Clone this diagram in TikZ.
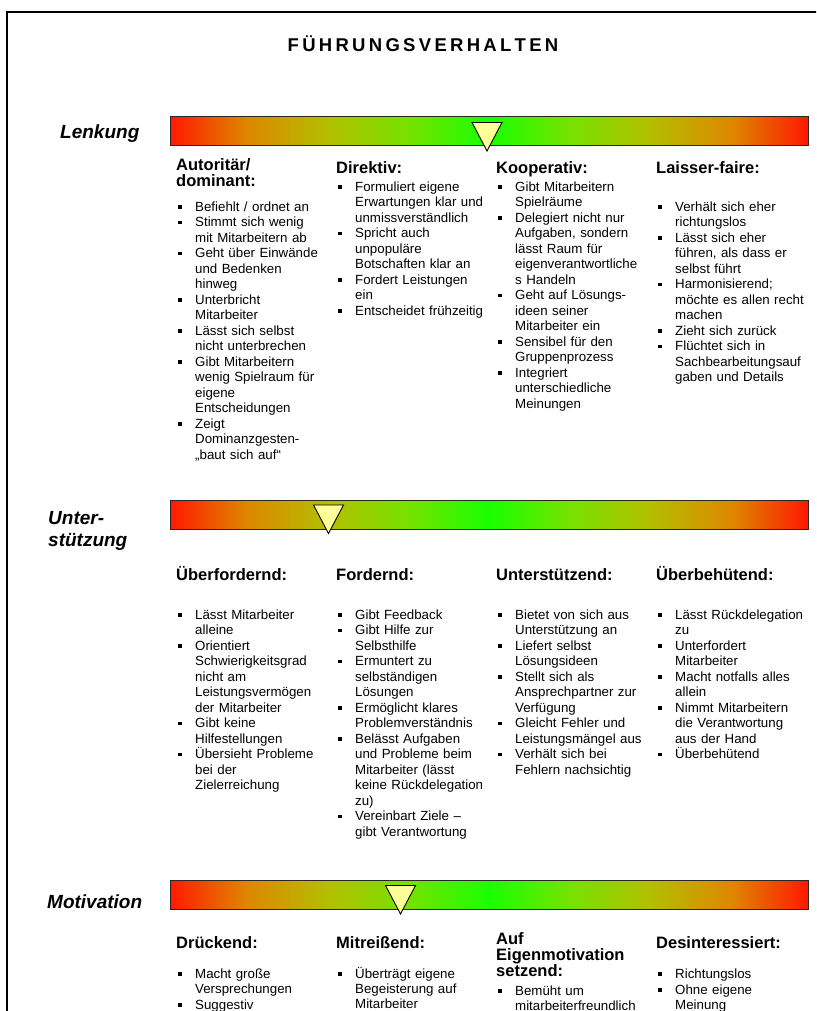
\documentclass[tikz,border=0pt]{standalone}
\usepackage{fontspec}
\setmainfont{Liberation Sans}
\usetikzlibrary{positioning}

\definecolor{ampRot}{RGB}{255,25,0}
\definecolor{ampOrange}{RGB}{222,135,0}
\definecolor{ampGelb}{RGB}{178,192,0}
\definecolor{ampHell}{RGB}{120,225,0}
\definecolor{ampGruen}{RGB}{25,255,0}
\definecolor{zeigergelb}{RGB}{255,255,153}

\pgfdeclarehorizontalshading{ampel}{100bp}{color(0bp)=(ampRot); color(25bp)=(ampRot);
  color(31bp)=(ampOrange); color(37.5bp)=(ampGelb); color(43.5bp)=(ampHell);
  color(50bp)=(ampGruen); color(56.5bp)=(ampHell); color(62.5bp)=(ampGelb);
  color(69bp)=(ampOrange); color(75bp)=(ampRot); color(100bp)=(ampRot)}

% Aufzaehlungspunkt mit haengendem Einzug
\newcommand{\punkt}{\endgraf\noindent\hangindent=17pt\hangafter=1%
  \makebox[17pt][l]{\rule[2.3pt]{3.8pt}{3.8pt}\rule{0pt}{12.5pt}}}
\newcommand{\schluss}{\endgraf}

\begin{document}
\begin{tikzpicture}[x=1pt, y=-1pt,
    balken/.style={draw=black!85, line width=1pt, shading=ampel, minimum width=638pt, minimum height=29pt, inner sep=0pt},
    zeiger/.style={draw=black, line width=0.9pt, fill=zeigergelb, line join=miter},
    titel/.style={anchor=base, inner sep=0pt, font=\fontsize{18.5}{20}\selectfont\bfseries},
    bereich/.style={inner sep=0pt, align=left, font=\fontsize{19}{22}\selectfont\bfseries\itshape},
    kopf/.style={anchor=north west, inner sep=0pt, align=left, font=\fontsize{16.5}{16}\selectfont\bfseries, execute at begin node={\rule{0pt}{15pt}}},
    liste/.style={anchor=north west, inner sep=0pt, text width=165pt, align=left, font=\fontsize{13.3}{15.5}\selectfont},
    kurzliste/.style={liste, font=\fontsize{13.3}{15}\selectfont}]
    \clip (0,0) rectangle (816,1011);
    \fill[white] (0,0) rectangle (816,1011);
    \draw[line width=2pt] (6.5,1030) |- (830,12);

    \node[titel] (titel) at (423,52) {\foreach \b in {F,Ü,H,R,U,N,G,S,V,E,R,H,A,L,T,E}{\b\kern3.3pt}N};

    % Lenkung
    \node[bereich, anchor=base west] (lenkung) at (60,139) {Lenkung};
    \node[balken] (balkenL) at (489,131.5) {};
    \coordinate (spitzeL) at (487,151);
    \draw[zeiger] (spitzeL) -- ++(-15,-28.5) -- ++(30,0) -- cycle;

    \node[kopf] (autoritaer) at (176,158) {Autoritär/\\dominant:};
    \node[kopf] (direktiv) at (336,158) {Direktiv:};
    \node[kopf] (kooperativ) at (496,158) {Kooperativ:};
    \node[kopf] (laisser) at (656,158) {Laisser-faire:};

    \node[liste] (listeAutoritaer) at (178,195.5) {\punkt Befiehlt / ordnet an
      \punkt Stimmt sich wenig\newline mit Mitarbeitern ab
      \punkt Geht über Einwände\newline und Bedenken\newline hinweg
      \punkt Unterbricht\newline Mitarbeiter
      \punkt Lässt sich selbst\newline nicht unterbrechen
      \punkt Gibt Mitarbeitern\newline wenig Spielraum für\newline eigene\newline Entscheidungen
      \punkt Zeigt\newline Dominanzgesten-\newline „baut sich auf“\schluss};
    \node[liste] (listeDirektiv) at (338,175.5) {\punkt Formuliert eigene\newline Erwartungen klar und\newline unmissverständlich
      \punkt Spricht auch\newline unpopuläre\newline Botschaften klar an
      \punkt Fordert Leistungen\newline ein
      \punkt Entscheidet frühzeitig\schluss};
    \node[liste] (listeKooperativ) at (498,175.5) {\punkt Gibt Mitarbeitern\newline Spielräume
      \punkt Delegiert nicht nur\newline Aufgaben, sondern\newline lässt Raum für\newline eigenverantwortliche\newline s Handeln
      \punkt Geht auf Lösungs-\newline ideen seiner\newline Mitarbeiter ein
      \punkt Sensibel für den\newline Gruppenprozess
      \punkt Integriert\newline unterschiedliche\newline Meinungen\schluss};
    \node[liste] (listeLaisser) at (658,195.5) {\punkt Verhält sich eher\newline richtungslos
      \punkt Lässt sich eher\newline führen, als dass er\newline selbst führt
      \punkt Harmonisierend;\newline möchte es allen recht\newline machen
      \punkt Zieht sich zurück
      \punkt Flüchtet sich in\newline Sachbearbeitungsauf\newline gaben und Details\schluss};

    % Unterstuetzung
    \node[bereich, anchor=north west, execute at begin node={\rule{0pt}{13.5pt}}] (unterstuetzung) at (48,511.5) {Unter-\\stützung};
    \node[balken] (balkenU) at (489,514.5) {};
    \coordinate (spitzeU) at (328.5,533.5);
    \draw[zeiger] (spitzeU) -- ++(-15,-28.5) -- ++(30,0) -- cycle;

    \node[kopf] (ueberfordernd) at (176,565) {Überfordernd:};
    \node[kopf] (fordernd) at (336,565) {Fordernd:};
    \node[kopf] (unterstuetzend) at (496,565) {Unterstützend:};
    \node[kopf] (ueberbehuetend) at (656,565) {Überbehütend:};

    \node[liste] (listeUeberfordernd) at (178,603.5) {\punkt Lässt Mitarbeiter\newline alleine
      \punkt Orientiert\newline Schwierigkeitsgrad\newline nicht am\newline Leistungsvermögen\newline der Mitarbeiter
      \punkt Gibt keine\newline Hilfestellungen
      \punkt Übersieht Probleme\newline bei der\newline Zielerreichung\schluss};
    \node[liste] (listeFordernd) at (338,603.5) {\punkt Gibt Feedback
      \punkt Gibt Hilfe zur\newline Selbsthilfe
      \punkt Ermuntert zu\newline selbständigen\newline Lösungen
      \punkt Ermöglicht klares\newline Problemverständnis
      \punkt Belässt Aufgaben\newline und Probleme beim\newline Mitarbeiter (lässt\newline keine Rückdelegation\newline zu)
      \punkt Vereinbart Ziele –\newline gibt Verantwortung\schluss};
    \node[liste] (listeUnterstuetzend) at (498,603.5) {\punkt Bietet von sich aus\newline Unterstützung an
      \punkt Liefert selbst\newline Lösungsideen
      \punkt Stellt sich als\newline Ansprechpartner zur\newline Verfügung
      \punkt Gleicht Fehler und\newline Leistungsmängel aus
      \punkt Verhält sich bei\newline Fehlern nachsichtig\schluss};
    \node[liste] (listeUeberbehuetend) at (658,603.5) {\punkt Lässt Rückdelegation\newline zu
      \punkt Unterfordert\newline Mitarbeiter
      \punkt Macht notfalls alles\newline allein
      \punkt Nimmt Mitarbeitern\newline die Verantwortung\newline aus der Hand
      \punkt Überbehütend\schluss};

    % Motivation
    \node[bereich, anchor=base west] (motivation) at (47,908) {Motivation};
    \node[balken] (balkenM) at (489,895) {};
    \coordinate (spitzeM) at (400.5,914);
    \draw[zeiger] (spitzeM) -- ++(-15,-28.5) -- ++(30,0) -- cycle;

    \node[kopf] (drueckend) at (176,933) {Drückend:};
    \node[kopf] (mitreissend) at (336,933) {Mitreißend:};
    \node[kopf] (eigenmotivation) at (496,932) {Auf\\Eigenmotivation\\setzend:};
    \node[kopf] (desinteressiert) at (656,933) {Desinteressiert:};

    \node[kurzliste] (listeDrueckend) at (178,963) {\punkt Macht große\newline Versprechungen
      \punkt Suggestiv\schluss};
    \node[kurzliste] (listeMitreissend) at (338,963) {\punkt Überträgt eigene\newline Begeisterung auf\newline Mitarbeiter\schluss};
    \node[kurzliste] (listeEigenmotivation) at (498,980) {\punkt Bemüht um\newline mitarbeiterfreundlich\schluss};
    \node[kurzliste] (listeDesinteressiert) at (658,963) {\punkt Richtungslos
      \punkt Ohne eigene\newline Meinung\schluss};
\end{tikzpicture}
\end{document}
